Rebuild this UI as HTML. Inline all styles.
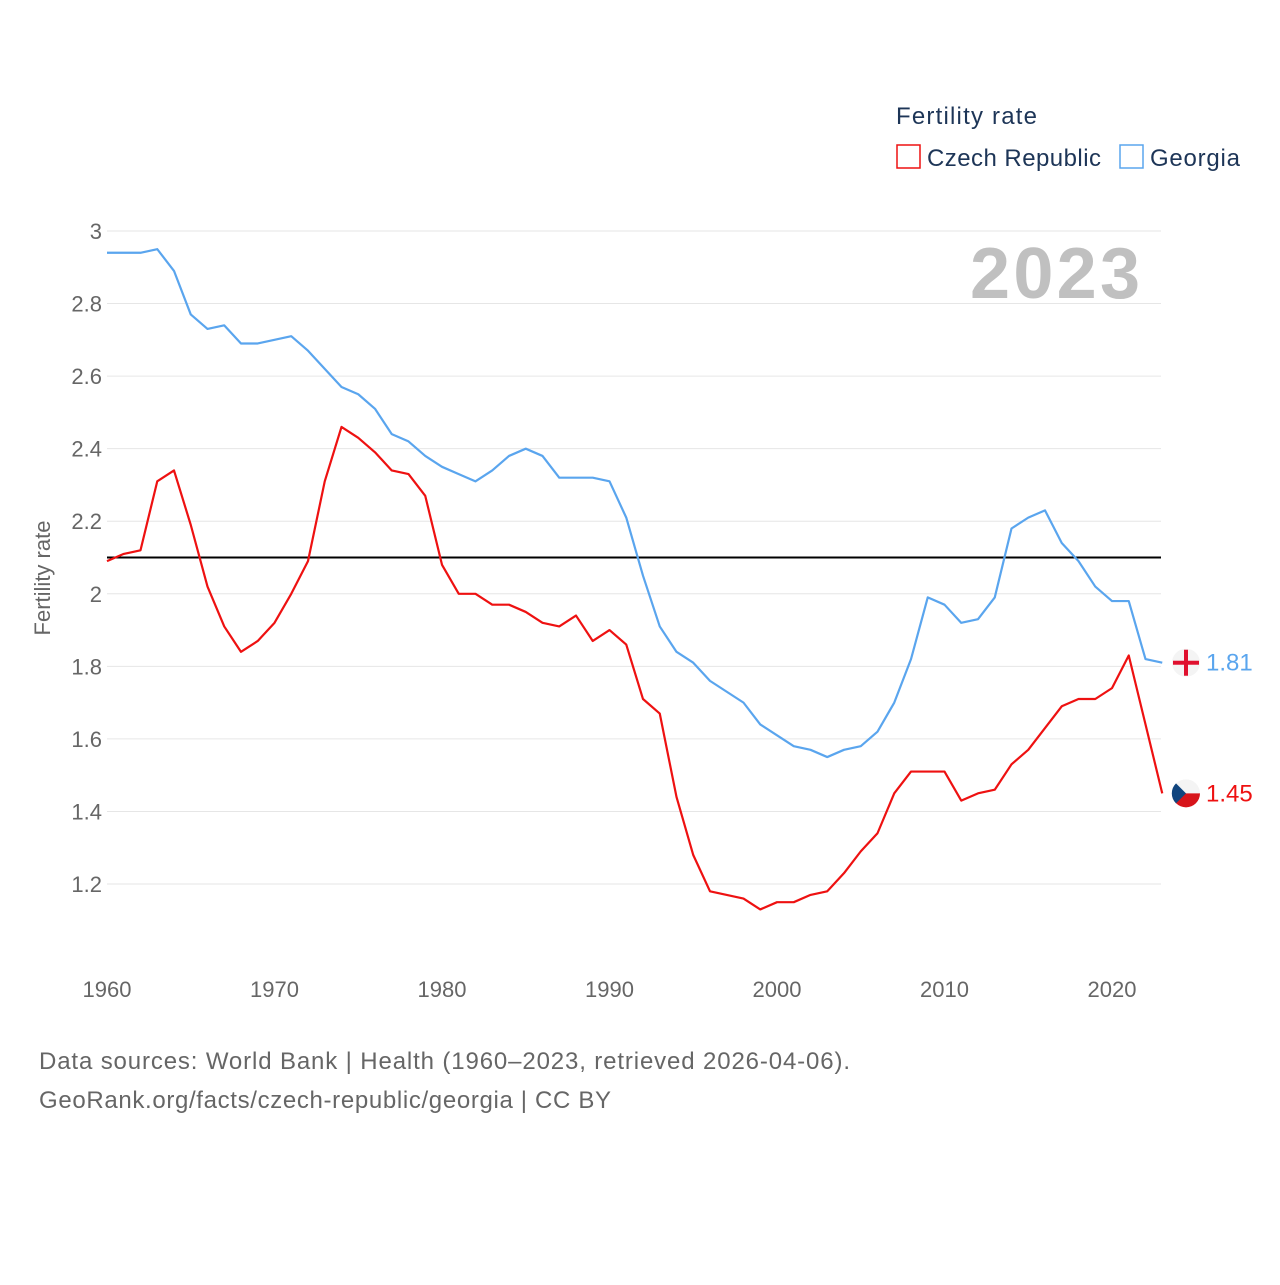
<!DOCTYPE html>
<html><head><meta charset="utf-8"><style>
body{margin:0;background:#fff;font-family:"Liberation Sans",sans-serif}
svg text{font-family:"Liberation Sans",sans-serif}
</style></head><body>
<svg width="1280" height="1280" viewBox="0 0 1280 1280">
<text x="896" y="124" font-size="24" fill="#1d3557" textLength="141">Fertility rate</text>
<g><rect x="897" y="145" width="23" height="23" fill="none" stroke="#ee1111" stroke-width="1.5"/><text x="927" y="166" font-size="24" fill="#1d3557" textLength="174">Czech Republic</text></g>
<g><rect x="1120" y="145" width="23" height="23" fill="none" stroke="#5aa5ee" stroke-width="1.5"/><text x="1150" y="166" font-size="24" fill="#1d3557" textLength="90">Georgia</text></g>
<g id="grid"></g>
<text x="970" y="298" font-size="72" font-weight="bold" fill="#c0c0c0" textLength="170">2023</text>
<text transform="translate(50,578) rotate(-90)" font-size="22" fill="#666" text-anchor="middle">Fertility rate</text>
<g id="marks"></g>
<text x="39" y="1069" font-size="24" fill="#666" textLength="811">Data sources: World Bank | Health (1960–2023, retrieved 2026-04-06).</text>
<text x="39" y="1108" font-size="24" fill="#666" textLength="572">GeoRank.org/facts/czech-republic/georgia | CC BY</text>
</svg>
<script>
const years=[];for(let y=1960;y<=2023;y++)years.push(y);
const georgia=[2.94,2.94,2.94,2.95,2.89,2.77,2.73,2.74,2.69,2.69,2.70,2.71,2.67,2.62,2.57,2.55,2.51,2.44,2.42,2.38,2.35,2.33,2.31,2.34,2.38,2.40,2.38,2.32,2.32,2.32,2.31,2.21,2.05,1.91,1.84,1.81,1.76,1.73,1.70,1.64,1.61,1.58,1.57,1.55,1.57,1.58,1.62,1.70,1.82,1.99,1.97,1.92,1.93,1.99,2.18,2.21,2.23,2.14,2.09,2.02,1.98,1.98,1.82,1.81];
const czech=[2.09,2.11,2.12,2.31,2.34,2.19,2.02,1.91,1.84,1.87,1.92,2.00,2.09,2.31,2.46,2.43,2.39,2.34,2.33,2.27,2.08,2.00,2.00,1.97,1.97,1.95,1.92,1.91,1.94,1.87,1.90,1.86,1.71,1.67,1.44,1.28,1.18,1.17,1.16,1.13,1.15,1.15,1.17,1.18,1.23,1.29,1.34,1.45,1.51,1.51,1.51,1.43,1.45,1.46,1.53,1.57,1.63,1.69,1.71,1.71,1.74,1.83,1.64,1.45];
const yTicks=[1.2,1.4,1.6,1.8,2,2.2,2.4,2.6,2.8,3];
const xTicks=[1960,1970,1980,1990,2000,2010,2020];
const replacement=2.1;
const NS="http://www.w3.org/2000/svg";
const X=y=>107+(y-1960)*16.75, Y=v=>231+(3-v)*362.8;
function el(t,a,p){const e=document.createElementNS(NS,t);for(const k in a)e.setAttribute(k,a[k]);p.appendChild(e);return e;}
const g=document.getElementById('grid'),m=document.getElementById('marks');
yTicks.forEach(v=>{
 const l=el('line',{x1:107,x2:1161,y1:Y(v),y2:Y(v),stroke:'#e6e6e6','stroke-width':1},g);
 
 
 const t=el('text',{x:102,y:Y(v)+8,'font-size':22,fill:'#666','text-anchor':'end'},g);t.textContent=String(v);
 
 
});
xTicks.forEach(v=>{
 const t=el('text',{x:X(v),y:997,'font-size':22,fill:'#666','text-anchor':'middle'},g);t.textContent=v;
 
 
});
const rl=el('line',{x1:107,x2:1161,y1:Y(replacement),y2:Y(replacement),stroke:'#000','stroke-width':2},m);


function series(arr,col,name){
 const p=el('polyline',{points:arr.map((v,i)=>X(years[i])+','+Y(v)).join(' '),fill:'none',stroke:col,'stroke-width':2.2,'stroke-linejoin':'round'},m);
 
 
 const last=arr[arr.length-1],cy=Y(last);
 const c=el('circle',{cx:1186,cy:cy,r:14,fill:'#f4f4f4'},m);
 
 
 const t=el('text',{x:1206,y:cy+8,'font-size':24,fill:col},m);t.textContent=last.toFixed(2);
 
 
 return cy;
}
const gy=series(georgia,'#5aa5ee','georgia');
el('rect',{x:1184,y:gy-13,width:4,height:26,fill:'#e0102e'},m);
el('rect',{x:1173,y:gy-2,width:26,height:4,fill:'#e0102e'},m);
const cy=series(czech,'#ee1111','czech');
el('path',{d:`M1172 ${cy} A14 14 0 0 0 1200 ${cy} Z`,fill:'#d7141a'},m);
el('path',{d:`M1176 ${cy-10} L1186 ${cy} L1176 ${cy+10} A14 14 0 0 1 1176 ${cy-10} Z`,fill:'#11457e'},m);
</script>
</body></html>
